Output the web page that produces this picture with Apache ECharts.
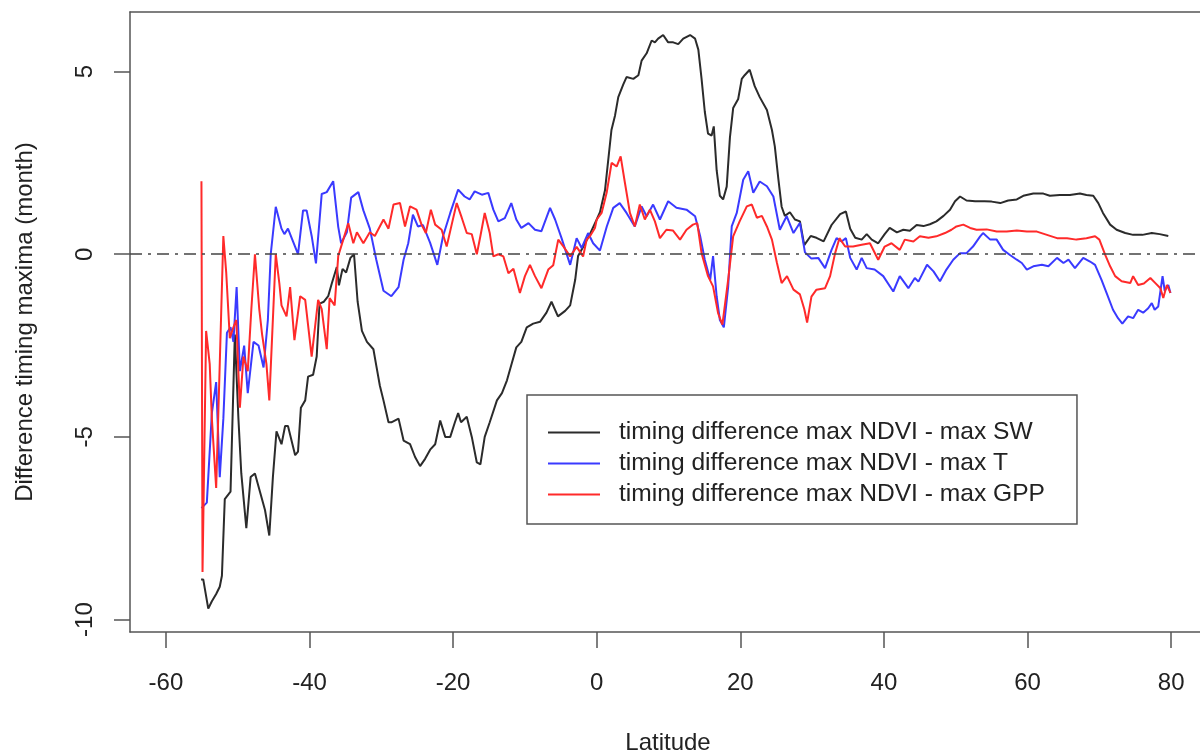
<!DOCTYPE html>
<html>
<head>
<meta charset="utf-8">
<script src="https://cdn.jsdelivr.net/npm/echarts@6/dist/echarts.min.js"></script>
<style>
  html, body { margin: 0; padding: 0; background: #fff; }
  #chart { width: 1200px; height: 753px; }
</style>
</head>
<body>
<div id="chart"></div>
<script>
// [latitude, months]
const maxSW = [
  [-55.1, -8.9], [-54.8, -8.9], [-54.1, -9.7], [-53.6, -9.5], [-53.0, -9.3], [-52.5, -9.1],
  [-52.2, -8.8], [-51.8, -6.7], [-51.0, -6.5], [-50.4, -2.2], [-49.9, -4.5], [-49.5, -6.0],
  [-48.8, -7.5], [-48.2, -6.1], [-47.6, -6.0], [-46.9, -6.5], [-46.2, -7.0], [-45.6, -7.7],
  [-45.1, -6.1], [-44.6, -4.85], [-43.9, -5.2], [-43.4, -4.7], [-43.0, -4.7], [-42.0, -5.5],
  [-41.6, -5.4], [-41.2, -4.2], [-40.6, -4.0], [-40.2, -3.35], [-39.5, -3.3], [-39.0, -2.8],
  [-38.6, -1.35], [-38.0, -1.3], [-37.4, -1.15], [-36.9, -0.8], [-36.2, -0.35], [-35.9, -0.85],
  [-35.4, -0.4], [-34.9, -0.5], [-34.3, -0.1], [-33.8, 0.0], [-33.3, -1.3], [-32.7, -2.1],
  [-32.0, -2.4], [-31.1, -2.6], [-30.7, -3.05], [-30.2, -3.6], [-29.7, -4.0], [-29.0, -4.6],
  [-28.6, -4.6], [-27.6, -4.5], [-26.9, -5.1], [-26.0, -5.2], [-25.3, -5.55], [-24.6, -5.8],
  [-23.9, -5.6], [-23.2, -5.35], [-22.5, -5.2], [-21.8, -4.55], [-21.1, -5.0], [-20.4, -5.0],
  [-19.75, -4.6], [-19.3, -4.35], [-18.9, -4.6], [-18.1, -4.45], [-17.4, -5.0], [-16.7, -5.7],
  [-16.2, -5.75], [-15.6, -5.0], [-14.9, -4.6], [-13.9, -4.0], [-13.2, -3.8], [-12.5, -3.45],
  [-11.85, -3.0], [-11.2, -2.55], [-10.5, -2.4], [-9.75, -2.0], [-8.85, -1.9], [-7.9, -1.85],
  [-7.0, -1.6], [-6.3, -1.3], [-5.4, -1.7], [-4.4, -1.55], [-3.7, -1.4], [-3.0, -0.7],
  [-2.6, -0.05], [-1.9, 0.2], [-0.95, 0.55], [0.0, 0.95], [0.45, 1.15], [1.15, 1.75],
  [2.05, 3.4], [2.55, 3.8], [3.0, 4.3], [3.7, 4.65], [4.15, 4.85], [5.1, 4.8], [5.8, 4.9],
  [6.25, 5.3], [6.95, 5.5], [7.65, 5.85], [8.1, 5.8], [8.55, 5.9], [9.25, 6.0], [9.95, 5.8],
  [10.65, 5.8], [11.35, 5.75], [12.05, 5.9], [13.0, 6.0], [13.7, 5.9], [14.15, 5.6],
  [14.6, 4.8], [15.05, 3.9], [15.5, 3.3], [16.0, 3.25], [16.3, 3.5], [16.7, 2.3], [17.15, 1.6],
  [17.6, 1.5], [18.1, 1.85], [18.55, 3.2], [19.0, 4.0], [19.7, 4.25], [20.2, 4.8], [20.6, 4.9],
  [21.3, 5.05], [22.0, 4.6], [22.7, 4.3], [23.7, 3.95], [24.4, 3.4], [24.8, 2.95], [25.3, 2.05],
  [25.75, 1.3], [26.2, 1.05], [26.9, 1.15], [27.6, 0.95], [28.3, 0.9], [28.9, 0.25], [29.8, 0.5],
  [30.6, 0.45], [31.6, 0.35], [32.7, 0.8], [33.9, 1.1], [34.7, 1.17], [35.3, 0.7], [36.0, 0.45],
  [36.9, 0.4], [37.6, 0.55], [38.3, 0.4], [39.2, 0.3], [40.1, 0.55], [40.8, 0.72], [41.8, 0.6],
  [42.7, 0.67], [43.6, 0.64], [44.55, 0.8], [45.5, 0.77], [46.4, 0.82], [47.3, 0.9], [48.3, 1.05],
  [49.2, 1.22], [49.9, 1.45], [50.6, 1.58], [51.5, 1.47], [52.7, 1.45], [54.0, 1.45], [55.0, 1.44],
  [56.2, 1.4], [57.3, 1.47], [58.5, 1.5], [59.4, 1.6], [60.8, 1.66], [62.2, 1.66], [63.1, 1.6],
  [64.5, 1.62], [65.9, 1.62], [67.3, 1.66], [68.2, 1.62], [69.15, 1.6], [69.85, 1.4], [70.5, 1.13],
  [71.5, 0.81], [72.4, 0.67], [73.6, 0.58], [74.7, 0.53], [76.0, 0.53], [77.3, 0.58], [78.4, 0.55],
  [79.6, 0.5]
];

const maxT = [
  [-55.05, -6.95], [-54.3, -6.8], [-53.6, -4.35], [-53.0, -3.5], [-52.5, -6.1], [-52.0, -4.5],
  [-51.5, -2.15], [-51.0, -2.0], [-50.6, -2.4], [-50.15, -0.9], [-49.7, -3.2], [-49.1, -2.5],
  [-48.6, -3.8], [-47.8, -2.4], [-47.1, -2.5], [-46.4, -3.1], [-45.8, -1.8], [-45.4, 0.0],
  [-44.7, 1.3], [-43.9, 0.7], [-43.5, 0.55], [-43.0, 0.7], [-42.3, 0.35], [-41.6, 0.0],
  [-40.9, 1.2], [-40.4, 1.2], [-39.7, 0.5], [-39.1, -0.25], [-38.3, 1.65], [-37.6, 1.7],
  [-36.7, 2.0], [-36.0, 0.75], [-35.6, 0.3], [-34.8, 0.6], [-34.2, 1.55], [-33.2, 1.7],
  [-32.5, 1.2], [-31.6, 0.7], [-30.7, -0.15], [-29.7, -1.0], [-28.6, -1.15], [-27.6, -0.9],
  [-26.9, -0.15], [-26.25, 0.3], [-25.6, 1.08], [-24.9, 0.76], [-24.2, 0.8], [-23.2, 0.31],
  [-22.2, -0.29], [-21.4, 0.5], [-20.4, 1.13], [-19.3, 1.77], [-18.4, 1.58], [-17.7, 1.5],
  [-17.0, 1.72], [-16.0, 1.63], [-15.1, 1.68], [-14.4, 1.22], [-13.7, 0.9], [-12.8, 0.99],
  [-11.9, 1.4], [-11.2, 0.95], [-10.5, 0.72], [-9.5, 0.85], [-8.6, 0.67], [-7.7, 0.63],
  [-6.5, 1.27], [-5.8, 0.95], [-4.9, 0.44], [-3.7, -0.29], [-2.8, 0.44], [-2.1, 0.17],
  [-1.2, 0.58], [-0.5, 0.3], [0.45, 0.1], [1.4, 0.76], [2.3, 1.27], [3.2, 1.4], [4.15, 1.13],
  [5.3, 0.76], [6.25, 1.31], [6.95, 1.04], [7.85, 1.36], [8.8, 0.95], [9.95, 1.45], [11.1, 1.27],
  [12.5, 1.22], [13.7, 1.04], [14.4, 0.5], [15.05, -0.15], [15.8, -0.7], [16.2, -0.05],
  [16.7, -1.15], [17.15, -1.8], [17.7, -2.0], [18.3, -0.9], [18.8, 0.76], [19.5, 1.13],
  [20.4, 2.04], [21.1, 2.27], [21.8, 1.68], [22.7, 1.99], [23.7, 1.86], [24.6, 1.58],
  [25.5, 0.67], [26.45, 1.04], [27.4, 0.58], [28.3, 0.86], [29.0, 0.05], [29.9, -0.12],
  [30.85, -0.1], [31.8, -0.38], [32.7, 0.12], [33.4, 0.44], [34.1, 0.35], [34.7, 0.44],
  [35.3, -0.1], [36.2, -0.42], [36.9, -0.1], [37.6, -0.38], [38.7, -0.42], [39.9, -0.6],
  [41.3, -1.02], [42.2, -0.6], [43.4, -0.93], [44.3, -0.65], [44.8, -0.75], [46.0, -0.29],
  [46.9, -0.47], [47.8, -0.74], [48.7, -0.42], [49.65, -0.15], [50.6, 0.03], [51.5, 0.03],
  [52.4, 0.21], [53.4, 0.49], [53.8, 0.58], [54.8, 0.4], [55.7, 0.4], [56.6, 0.12],
  [57.55, -0.02], [58.5, -0.15], [59.2, -0.24], [59.9, -0.42], [60.8, -0.33], [62.0, -0.29],
  [62.9, -0.33], [64.1, -0.1], [65.0, -0.24], [65.7, -0.15], [66.6, -0.38], [67.75, -0.1],
  [68.7, -0.2], [69.4, -0.29], [70.3, -0.7], [71.0, -1.06], [71.9, -1.52], [72.6, -1.75],
  [73.2, -1.9], [74.0, -1.7], [74.7, -1.75], [75.4, -1.52], [76.1, -1.6], [76.8, -1.48],
  [77.3, -1.34], [77.7, -1.52], [78.2, -1.43], [78.8, -0.6], [79.1, -1.0], [79.6, -0.84],
  [79.9, -1.06]
];

const maxGPP = [
  [-55.05, 2.0], [-54.9, -8.7], [-54.4, -2.1], [-53.9, -3.0], [-53.6, -4.5], [-53.0, -6.4],
  [-52.5, -3.0], [-52.0, 0.5], [-51.6, -0.5], [-51.1, -2.3], [-50.6, -2.0], [-50.2, -1.8],
  [-49.7, -4.2], [-49.2, -2.8], [-48.6, -3.2], [-48.1, -1.5], [-47.6, 0.0], [-47.0, -1.5],
  [-46.6, -2.2], [-46.0, -3.0], [-45.6, -4.0], [-44.7, 0.0], [-44.2, -0.8], [-43.9, -1.4],
  [-43.2, -1.7], [-42.7, -0.9], [-42.1, -2.35], [-41.3, -1.15], [-40.6, -1.25], [-39.7, -2.8],
  [-38.8, -1.25], [-38.3, -1.5], [-37.6, -2.6], [-37.2, -1.2], [-36.5, -1.4], [-36.0, -0.05],
  [-35.3, 0.4], [-34.6, 0.85], [-33.9, 0.3], [-33.4, 0.6], [-32.5, 0.3], [-31.6, 0.6],
  [-30.9, 0.5], [-29.7, 0.95], [-29.0, 0.7], [-28.3, 1.36], [-27.4, 1.4], [-26.7, 0.76],
  [-26.0, 1.31], [-25.1, 1.22], [-24.4, 0.81], [-23.8, 0.58], [-23.1, 1.22], [-22.5, 0.81],
  [-21.6, 0.67], [-20.9, 0.21], [-20.2, 0.81], [-19.5, 1.4], [-18.8, 1.0], [-18.1, 0.58],
  [-17.4, 0.55], [-16.7, 0.0], [-16.2, 0.5], [-15.6, 1.13], [-14.9, 0.58], [-14.4, -0.06],
  [-13.7, 0.0], [-13.0, -0.06], [-12.3, -0.52], [-11.6, -0.4], [-10.7, -1.06], [-10.0, -0.6],
  [-9.3, -0.29], [-8.6, -0.6], [-7.7, -0.93], [-6.75, -0.42], [-6.06, -0.3], [-5.36, 0.4],
  [-4.6, 0.2], [-3.7, -0.06], [-2.8, 0.2], [-1.9, -0.06], [-1.4, 0.4], [-0.95, 0.49],
  [-0.25, 0.72], [0.0, 0.95], [0.68, 1.13], [1.38, 1.68], [2.07, 2.5], [2.77, 2.4],
  [3.33, 2.68], [3.93, 1.95], [4.62, 1.13], [5.3, 0.76], [6.0, 1.36], [6.7, 0.95], [7.4, 1.22],
  [8.1, 0.9], [8.8, 0.44], [9.7, 0.67], [10.6, 0.65], [11.6, 0.4], [12.5, 0.67], [13.4, 0.81],
  [14.0, 0.85], [14.6, 0.03], [15.5, -0.6], [16.2, -0.88], [16.9, -1.61], [17.5, -1.93],
  [18.3, -0.7], [19.0, 0.49], [19.9, 0.9], [20.9, 1.31], [21.6, 1.36], [22.3, 1.0], [23.0, 1.05],
  [23.7, 0.76], [24.4, 0.4], [25.1, -0.24], [25.75, -0.79], [26.5, -0.6], [27.4, -0.97],
  [28.3, -1.1], [28.9, -1.5], [29.3, -1.87], [29.9, -1.16], [30.6, -0.97], [31.8, -0.93],
  [32.5, -0.6], [33.2, 0.03], [33.8, 0.44], [34.6, 0.21], [35.7, 0.21], [36.9, 0.26],
  [38.05, 0.3], [39.2, -0.15], [40.1, 0.21], [41.05, 0.3], [42.2, 0.12], [42.9, 0.4],
  [44.1, 0.35], [45.0, 0.49], [46.2, 0.45], [47.3, 0.49], [48.5, 0.58], [49.4, 0.67],
  [50.1, 0.76], [51.05, 0.81], [52.0, 0.72], [52.9, 0.67], [54.3, 0.68], [55.7, 0.62],
  [57.1, 0.62], [58.5, 0.65], [59.9, 0.62], [61.3, 0.62], [62.7, 0.53], [64.1, 0.44],
  [65.5, 0.44], [66.8, 0.4], [68.2, 0.44], [69.4, 0.49], [70.0, 0.4], [70.8, -0.01],
  [71.5, -0.33], [72.2, -0.6], [73.1, -0.74], [74.3, -0.79], [74.7, -0.6], [75.4, -0.84],
  [76.2, -0.8], [77.1, -0.65], [77.8, -0.79], [78.5, -0.93], [78.9, -1.2], [79.4, -0.84],
  [79.9, -1.06]
];

const seriesNames = [
  "timing difference max NDVI - max SW",
  "timing difference max NDVI - max T",
  "timing difference max NDVI - max GPP",
];
const xTicks = [-60, -40, -20, 0, 20, 40, 60, 80];
const yTicks = [-10, -5, 0, 5];

const font = "'Liberation Sans', Arial, Helvetica, sans-serif";
const ink = "#222";
const frame = "#555";
const frameLine = { show: true, onZero: false, lineStyle: { color: frame, width: 1.5 } };

const chart = echarts.init(document.getElementById("chart"), null, { renderer: "canvas" });

const lineSeries = (name, data, color) => ({
  name,
  type: "line",
  data,
  showSymbol: false,
  symbol: "none",
  lineStyle: { color, width: 2 },
  itemStyle: { color },
});

chart.setOption({
  animation: false,
  backgroundColor: "#fff",
  textStyle: { fontFamily: font },
  // box runs a little past the right edge of the picture, like the original
  grid: {
    left: 130,
    top: 12,
    width: 1076,
    height: 620,
    show: false,
    outerBoundsMode: "none",
    containLabel: false,
  },
  legend: {
    orient: "vertical",
    left: 527,
    top: 395,
    padding: [25, 32, 17, 21],
    itemGap: 6,
    itemWidth: 52,
    itemHeight: 2,
    icon: "rect",
    borderColor: frame,
    borderWidth: 1.5,
    backgroundColor: "#fff",
    data: seriesNames,
    textStyle: {
      fontSize: 24.6,
      lineHeight: 25,
      color: ink,
      fontFamily: font,
      padding: [0, 0, 0, 14],
    },
  },
  xAxis: [
    {
      type: "value",
      position: "bottom",
      min: -65,
      max: 84.85,
      name: "Latitude",
      nameLocation: "middle",
      nameGap: 99,
      nameTextStyle: { fontSize: 24, color: ink, fontFamily: font },
      axisLine: frameLine,
      splitLine: { show: false },
      axisTick: {
        show: true,
        length: 16,
        customValues: xTicks,
        lineStyle: { color: frame, width: 1.5 },
      },
      axisLabel: {
        customValues: xTicks,
        fontSize: 24,
        color: ink,
        margin: 39,
      },
    },
    {
      // top edge of the box
      type: "value",
      position: "top",
      min: -65,
      max: 84.85,
      axisLine: frameLine,
      axisTick: { show: false },
      axisLabel: { show: false },
      splitLine: { show: false },
    },
  ],
  yAxis: {
    type: "value",
    min: -10.34,
    max: 6.63,
    name: "Difference timing maxima (month)",
    nameLocation: "middle",
    nameRotate: 90,
    nameGap: 93,
    nameTextStyle: { fontSize: 24, color: ink, fontFamily: font },
    axisLine: frameLine,
    splitLine: { show: false },
    axisTick: {
      show: true,
      length: 16,
      customValues: yTicks,
      lineStyle: { color: frame, width: 1.5 },
    },
    axisLabel: {
      customValues: yTicks,
      rotate: 90,
      fontSize: 24,
      color: ink,
      margin: 33,
    },
  },
  series: [
    {
      ...lineSeries(seriesNames[0], maxSW, "#2b2b2b"),
      markLine: {
        silent: true,
        symbol: "none",
        label: { show: false },
        lineStyle: { color: "#444", width: 1.5, type: [12, 6, 3, 6] },
        data: [{ yAxis: 0 }],
      },
    },
    lineSeries(seriesNames[1], maxT, "#3a3aff"),
    lineSeries(seriesNames[2], maxGPP, "#ff2a2a"),
  ],
});
</script>
</body>
</html>
